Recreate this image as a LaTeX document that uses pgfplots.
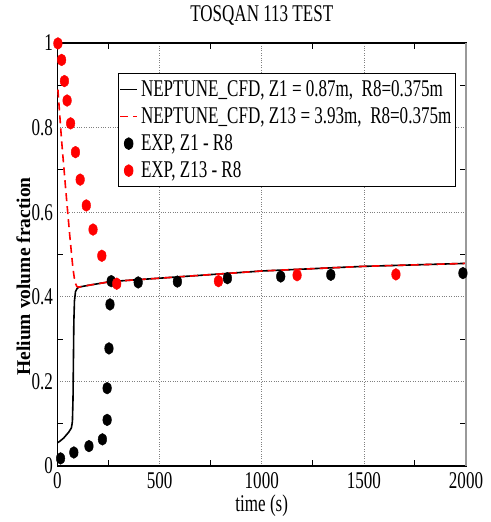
\documentclass[border=0pt]{standalone}
\usepackage{pgfplots}
\pgfplotsset{compat=1.18}
\usepackage{fontspec}
\setmainfont{Liberation Serif}[FakeStretch=0.71]
\newfontfamily\ylabfont{Liberation Serif}
\begin{document}
\begin{tikzpicture}
\begin{axis}[
  scale only axis,
  width=408.5pt, height=423pt,
  xmin=0, xmax=2000, ymin=0, ymax=1,
  xtick={0,500,1000,1500,2000},
  xticklabels={0,500,1000,1500,2000},
  ytick={0,0.2,0.4,0.6,0.8,1},
  yticklabels={0,0.2,0.4,0.6,0.8,1},
  minor tick num=1,
  tick align=inside,
  major tick length=0pt,
  minor tick length=6pt,
  minor tick style={black, line width=1pt},
  grid=major,
  major grid style={dotted, gray, line width=0.7pt},
  axis line style={black, line width=1.4pt},
  tick label style={font=\fontsize{24}{28}\selectfont},
  xticklabel style={anchor=base, yshift=-22.5pt},
  yticklabel style={xshift=-1pt},
  title={TOSQAN 113 TEST},
  title style={at={(axis description cs:0.5,1.0378)}, anchor=base, font=\fontsize{24}{28}\selectfont},
  xlabel={time (s)},
  xlabel style={at={(axis description cs:0.5,-0.1085)}, anchor=base, font=\fontsize{24}{28}\selectfont, inner sep=0pt},
  ylabel={Helium volume fraction},
  ylabel style={at={(axis description cs:-0.0673,0.448)}, anchor=base, font=\ylabfont\bfseries\fontsize{19.5}{24}\selectfont},
  legend style={at={(axis description cs:0.148,0.929)}, anchor=north west,
    draw=black, line width=0.8pt, inner xsep=1pt, inner ysep=2.7pt,
    nodes={text height=18pt, text depth=5pt, inner ysep=2pt, inner xsep=3pt},
    row sep=0pt, font=\fontsize{24}{27}\selectfont},
  legend cell align=left,
  clip=false,
]
\addplot[black, line width=1.6pt, mark=none] coordinates {
(0,0.055)(10,0.058)(30,0.066)(55,0.080)(68,0.090)(73,0.105)(76,0.160)(78,0.250)(80,0.340)(83,0.390)(88,0.412)(95,0.419)(105,0.423)(150,0.427)(260,0.436)(500,0.444)(1000,0.461)(1500,0.472)(2000,0.479)};
\addlegendentry{NEPTUNE\_CFD, Z1 = 0.87m,\ \ R8=0.375m}
\addplot[red, line width=1.6pt, dash pattern=on 8pt off 5pt, mark=none] coordinates {
(2,0.890)(20,0.770)(40,0.655)(60,0.545)(75,0.470)(85,0.435)(95,0.424)(105,0.423)(150,0.427)(260,0.436)(500,0.444)(1000,0.461)(1500,0.472)(2000,0.479)};
\addlegendentry{NEPTUNE\_CFD, Z13 = 3.93m,\ \ R8=0.375m}
\addplot[only marks, mark=*, mark size=5.9pt, mark options={xscale=0.73, draw=black, fill=black}] coordinates {
(15,0.018)(80,0.032)(154,0.047)(220,0.063)(243,0.109)(243,0.184)(252,0.278)(257,0.382)(263,0.437)(395,0.434)(587,0.436)(832,0.444)(1093,0.448)(1338,0.452)(1985,0.456)};
\addlegendentry{EXP, Z1 - R8}
\addplot[only marks, mark=*, mark size=5.9pt, mark options={xscale=0.73, draw=red, fill=red}] coordinates {
(2,0.999)(20,0.960)(34,0.910)(47,0.864)(64,0.810)(88,0.742)(111,0.677)(141,0.616)(174,0.559)(217,0.497)(290,0.431)(788,0.437)(1173,0.451)(1657,0.453)};
\addlegendentry{EXP, Z13 - R8}
\draw[line width=2pt, gray!80] (rel axis cs:1,0) -- (rel axis cs:1,1);
\end{axis}
\pgfresetboundingbox
\path[use as bounding box] ([xshift=-57.5pt,yshift=-56pt]current axis.south west) rectangle ([xshift=25pt,yshift=43pt]current axis.north east);
\end{tikzpicture}
\end{document}
